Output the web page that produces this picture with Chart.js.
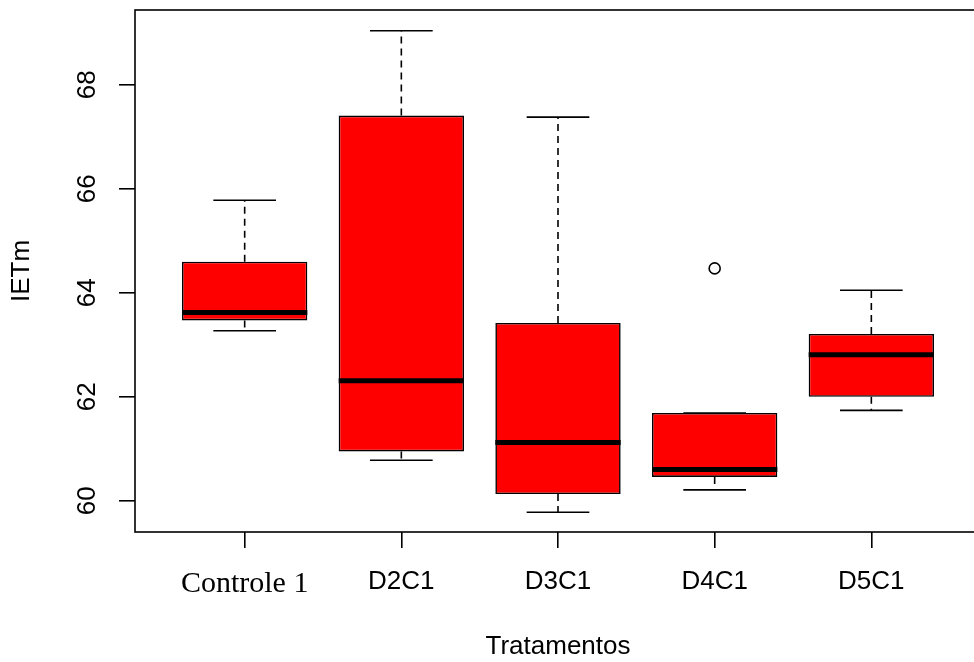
<!DOCTYPE html>
<html>
<head>
<meta charset="utf-8">
<script src="https://cdn.jsdelivr.net/npm/chart.js@4"></script>
<style>
html,body{margin:0;padding:0;background:#fff;overflow:hidden;}
#wrap{width:990px;height:662px;position:relative;}
</style>
</head>
<body>
<div id="wrap"><canvas id="c"></canvas></div>
<script>
const categories = ['Controle 1', 'D2C1', 'D3C1', 'D4C1', 'D5C1'];
const whiskerLow  = [63.27, 60.78, 59.78, 60.21, 61.74];
const q1          = [63.47, 60.95, 60.13, 60.46, 62.00];
const medians     = [63.62, 62.31, 61.12, 60.60, 62.81];
const q3          = [64.60, 67.41, 63.42, 61.69, 63.21];
const whiskerHigh = [65.78, 69.04, 67.38, 61.69, 64.05];
const outlierCat  = [4];
const outlierVal  = [64.47];
const yTicks      = [60, 62, 64, 66, 68];

const boxPlugin = {
  id: 'boxExtras',
  afterDatasetsDraw(chart) {
    const ctx = chart.ctx, xs = chart.scales.x, ys = chart.scales.y;
    const unit = xs.getPixelForValue(2) - xs.getPixelForValue(1);
    ctx.save();
    ctx.strokeStyle = '#000';
    categories.forEach((c, i) => {
      const x = xs.getPixelForValue(i + 1);
      ctx.lineWidth = 1.6;
      ctx.setLineDash([7, 5]);
      ctx.beginPath();
      if (whiskerHigh[i] > q3[i]) {
        ctx.moveTo(x, ys.getPixelForValue(q3[i]));
        ctx.lineTo(x, ys.getPixelForValue(whiskerHigh[i]));
      }
      ctx.moveTo(x, ys.getPixelForValue(q1[i]));
      ctx.lineTo(x, ys.getPixelForValue(whiskerLow[i]));
      ctx.stroke();
      ctx.setLineDash([]);
      const hw = unit * 0.2;
      ctx.beginPath();
      ctx.moveTo(x - hw, ys.getPixelForValue(whiskerHigh[i]));
      ctx.lineTo(x + hw, ys.getPixelForValue(whiskerHigh[i]));
      ctx.moveTo(x - hw, ys.getPixelForValue(whiskerLow[i]));
      ctx.lineTo(x + hw, ys.getPixelForValue(whiskerLow[i]));
      ctx.stroke();
    });
    categories.forEach((c, i) => {
      const x = xs.getPixelForValue(i + 1);
      const bw = unit * 0.4;
      ctx.lineWidth = 5;
      ctx.beginPath();
      ctx.moveTo(x - bw, ys.getPixelForValue(medians[i]));
      ctx.lineTo(x + bw, ys.getPixelForValue(medians[i]));
      ctx.stroke();
    });
    const a = chart.chartArea;
    ctx.lineWidth = 1.6;
    ctx.strokeRect(a.left, a.top, a.right - a.left, a.bottom - a.top);
    ctx.fillStyle = '#000';
    ctx.font = '26px "Liberation Sans", Arial, sans-serif';
    ctx.textAlign = 'center';
    ctx.textBaseline = 'middle';
    yTicks.forEach(v => {
      const y = ys.getPixelForValue(v);
      ctx.save();
      ctx.translate(88, y);
      ctx.rotate(-Math.PI / 2);
      ctx.fillText(String(v), 0, 0);
      ctx.restore();
    });
    ctx.restore();
  }
};

const boxData = categories.map((c, i) => ({ x: i + 1, y: [q1[i], q3[i]] }));
const outData = outlierCat.map((c, i) => ({ x: c, y: outlierVal[i] }));

new Chart(document.getElementById('c'), {
  type: 'bar',
  data: {
    datasets: [
      {
        type: 'scatter',
        data: outData,
        pointRadius: 5.5,
        pointBackgroundColor: '#fff',
        pointBorderColor: '#000',
        pointBorderWidth: 1.6,
        order: 0
      },
      {
        type: 'bar',
        data: boxData,
        backgroundColor: '#ff0000',
        borderColor: '#000',
        borderWidth: 1.6,
        borderSkipped: false,
        barPercentage: 0.8,
        categoryPercentage: 1,
        order: 1
      }
    ]
  },
  options: {
    responsive: true,
    maintainAspectRatio: false,
    animation: false,
    layout: { padding: { top: 10, right: 9, left: 0, bottom: 0 } },
    plugins: { legend: { display: false }, tooltip: { enabled: false } },
    scales: {
      x: {
        type: 'linear',
        position: 'bottom',
        min: 0.3,
        max: 5.7,
        offset: false,
        afterBuildTicks: (s) => { s.ticks = categories.map((c, i) => ({ value: i + 1 })); },
        afterFit: (s) => { s.height = 130; },
        border: { display: false },
        grid: { offset: false, drawOnChartArea: false, drawTicks: true, tickLength: 16, color: '#000', lineWidth: 1.6 },
        ticks: {
          autoSkip: false,
          maxRotation: 0,
          minRotation: 0,
          padding: 18,
          color: '#000',
          callback: (v) => categories[Math.round(v) - 1],
          font: (ctx) => ctx.index === 0
            ? { family: '"Liberation Serif", "Times New Roman", serif', size: 30 }
            : { family: '"Liberation Sans", Arial, sans-serif', size: 26 }
        },
        title: {
          display: true,
          text: 'Tratamentos',
          color: '#000',
          font: { family: '"Liberation Sans", Arial, sans-serif', size: 26 },
          padding: { top: 0, bottom: 0 }
        }
      },
      y: {
        min: 59.40,
        max: 69.44,
        afterBuildTicks: (s) => { s.ticks = yTicks.map(v => ({ value: v })); },
        afterFit: (s) => { s.width = 135; },
        border: { display: false },
        grid: { drawOnChartArea: false, drawTicks: true, tickLength: 16, color: '#000', lineWidth: 1.6 },
        ticks: { callback: () => '', padding: 0 },
        title: {
          display: true,
          text: 'IETm',
          color: '#000',
          font: { family: '"Liberation Sans", Arial, sans-serif', size: 26 },
          padding: { top: 6, bottom: 0 }
        }
      }
    }
  },
  plugins: [boxPlugin]
});
</script>
</body>
</html>
